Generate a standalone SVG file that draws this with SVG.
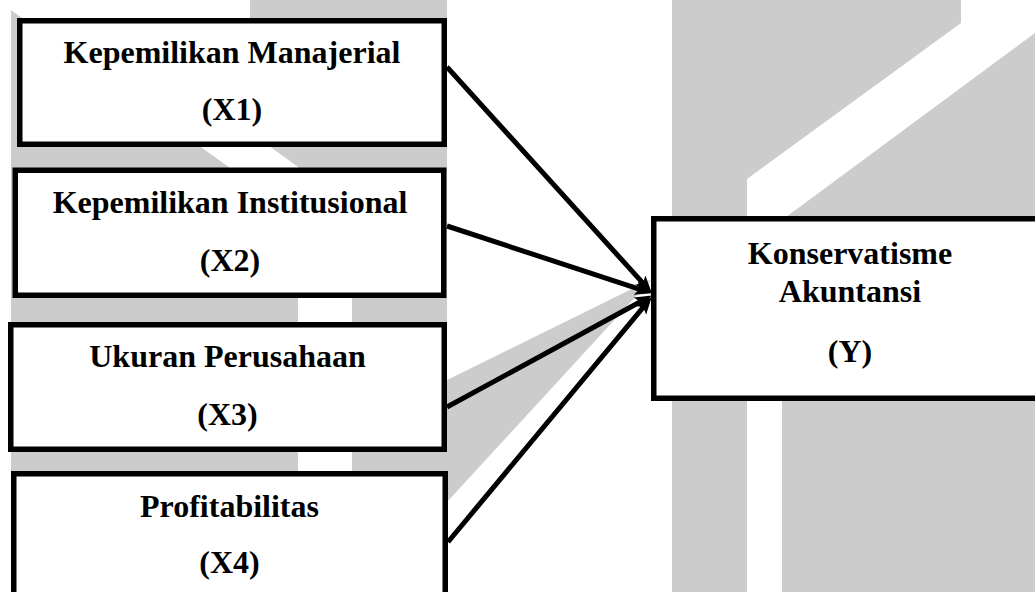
<svg xmlns="http://www.w3.org/2000/svg" width="1035" height="592" viewBox="0 0 1035 592">
<style>
.wm{fill:#cccccc;stroke:none}
.box{fill:#ffffff;stroke:#000000;stroke-width:5.5}
.t{font-family:"Liberation Serif","Times New Roman",serif;font-weight:bold;font-size:32px;fill:#000000;text-anchor:middle}
.c{stroke:#000000;stroke-width:5;fill:none;marker-end:url(#ah)}
</style>
<defs>
<marker id="ah" markerUnits="userSpaceOnUse" markerWidth="20" markerHeight="16" refX="6" refY="7" orient="auto">
<path d="M0,0 L17,7 L0,14 L4,7 Z" fill="#000000"/>
</marker>
</defs>
<rect width="1035" height="592" fill="#ffffff"/>
<g id="watermark">
<polygon class="wm" points="11,10 298,217 298,592 11,592"/>
<polygon class="wm" points="250,0 447,0 447,592 352,592 352,206 250,132"/>
<polygon class="wm" points="447,380 447,502 652,279"/>
<polygon class="wm" points="672,0 961,0 961,23 747,179 747,592 672,592"/>
<polygon class="wm" points="1035,33 782,220 782,592 1035,592"/>
</g>
<g id="x1">
<rect class="box" x="19.75" y="20.75" width="424.5" height="123.5"/>
<text class="t" x="232" y="63">Kepemilikan Manajerial</text>
<text class="t" x="232" y="120">(X1)</text>
</g>
<g id="x2">
<rect class="box" x="15.25" y="170.25" width="428.5" height="125"/>
<text class="t" x="230" y="213">Kepemilikan Institusional</text>
<text class="t" x="230" y="271">(X2)</text>
</g>
<g id="x3">
<rect class="box" x="10.75" y="324.75" width="433.5" height="124.5"/>
<text class="t" x="227.5" y="367">Ukuran Perusahaan</text>
<text class="t" x="227.5" y="425">(X3)</text>
</g>
<g id="x4">
<rect class="box" x="13.75" y="473.75" width="431.5" height="140"/>
<text class="t" x="229.5" y="517">Profitabilitas</text>
<text class="t" x="229.5" y="573">(X4)</text>
</g>
<g id="y">
<rect class="box" x="653.75" y="218.75" width="400" height="179.5"/>
<text class="t" x="850" y="264">Konservatisme</text>
<text class="t" x="850" y="302">Akuntansi</text>
<text class="t" x="850" y="362">(Y)</text>
</g>
<g id="connectors">
<line class="c" x1="447" y1="67" x2="644.3" y2="284.6"/>
<line class="c" x1="447" y1="226" x2="641.5" y2="289.9"/>
<line class="c" x1="447" y1="407" x2="642.2" y2="300.8"/>
<line class="c" x1="448" y1="542" x2="644.6" y2="305.7"/>
</g>
</svg>
